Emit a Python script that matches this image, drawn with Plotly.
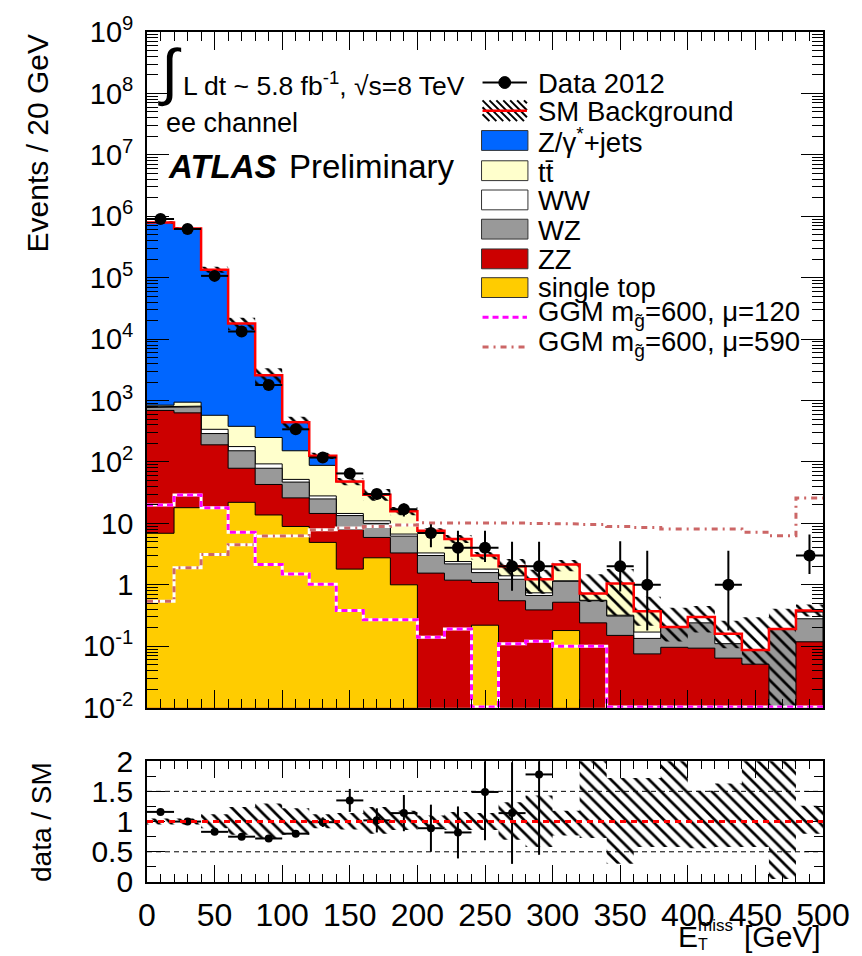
import numpy as np
import plotly.graph_objects as go

# ---------------- data ----------------
bin_edges = [0, 20, 40, 60, 80, 100, 120, 140, 160, 180, 200, 220, 240, 260, 280,
             300, 320, 340, 360, 380, 400, 420, 440, 460, 480, 500]
bin_centers = [10, 30, 50, 70, 90, 110, 130, 150, 170, 190, 210, 230, 250, 270, 290,
               310, 330, 350, 370, 390, 410, 430, 450, 470, 490]

# background components, stacked bottom -> top
single_top = [6.9, 18, 18, 22, 13.7, 8.9, 4.9, 1.8, 2.75, 1.0, 0, 0, 0.22, 0, 0,
              0.18, 0, 0, 0, 0, 0, 0, 0, 0, 0]
zz = [683, 612, 172, 57, 29.3, 17.1, 9.6, 6.2, 3.15, 2.3, 1.55, 1.19, 0.87, 0.55, 0.39,
      0.34, 0.24, 0.15, 0.075, 0.096, 0.093, 0.064, 0.051, 0, 0.118]
wz = [80, 160, 100, 73, 36, 21, 10.5, 5.4, 4.1, 2.9, 1.45, 1.0, 0.49, 0.68, 0.28,
      0.62, 0.31, 0.16, 0.059, 0.11, 0.147, 0.046, 0.036, 0.19, 0.162]
ww = [20, 20, 50, 26, 14, 5, 3, 1.1, 1.0, 0.5, 0.3, 0.2, 0.22, 0.17, 0.07,
      0.02, 0.01, 0.01, 0.036, 0, 0.06, 0.05, 0, 0, 0.08]
ttbar = [50, 130, 235, 202, 157, 100, 60, 33, 18, 8.9, 4.1, 3.2, 1.2, 0.6, 0.49,
         0.99, 0.16, 0.73, 0.2, 0, 0, 0, 0, 0, 0.01]
zjets = [7.89e5, 6.29e5, 1.344e5, 1.762e4, 2320, 293, 38, 0.5, 0.3, 0.1, 0.2, 0, 0, 0, 0,
         0, 0, 0, 0, 0, 0, 0, 0, 0, 0.01]

# SM uncertainty band (relative, as in the ratio panel)
band_hi = [1.05, 1.05, 1.12, 1.24, 1.30, 1.22, 1.12, 1.14, 1.24, 1.18, 1.10, 1.16, 1.14,
           1.32, 1.43, 1.18, 2.07, 1.72, 1.72, 2.05, 1.51, 1.63, 3.4, 2.15, 1.26]
band_lo = [0.95, 0.95, 0.89, 0.78, 0.72, 0.78, 0.89, 0.87, 0.80, 0.86, 0.90, 0.86, 0.86,
           0.70, 0.58, 0.77, 0.73, 0.30, 0.58, 0.58, 0.56, 0.58, 0.58, 0.05, 0.80]

# data
data = [9.0e5, 6.2e5, 1.07e5, 1.33e4, 1790, 340, 118, 65, 30, 17, 7, 4, 4, 2, 2,
        None, None, 2, 1, None, None, 1, None, None, 3]
data_err_up = [950, 790, 330, 115, 42, 18, 11, 8, 5.5, 4.1, 2.7, 3.6, 3.6, 3.0, 3.0,
               None, None, 3.1, 2.6, None, None, 2.6, None, None, 3.6]
data_err_dn = [950, 790, 330, 115, 42, 18, 11, 8, 5.5, 4.1, 2.9, 1.65, 1.65, 1.2, 1.2,
               None, None, 1.22, 0.82, None, None, 0.82, None, None, 1.5]

# signal models
ggm_120 = [20, 29, 18, 7.2, 2.15, 1.5, 1.02, 0.38, 0.27, 0.27, 0.14, 0.19, 0, 0.11, 0.12,
           0.10, 0.10, 0, 0, 0, 0, 0, 0, 0, 0]
ggm_590 = [0.54, 1.9, 3.1, 4.5, 6.2, 6.3, 7.9, 8.4, 8.9, 9.4, 10.2, 10.3, 10.3, 10.1, 10.0,
           9.8, 9.6, 8.9, 8.6, 8.1, 8.1, 8.1, 7.2, 6.3, 26]

# ratio panel
ratio = [1.16, 1.0, 0.83, 0.75, 0.72, 0.80, 0.99, 1.35, 1.02, 1.14, 0.89, 0.82, 1.49, 1.14, 1.78,
         None, None, None, None, None, None, None, None, None, None]
ratio_err = [0.02, 0.01, 0.01, 0.01, 0.02, 0.03, 0.08, 0.19, 0.20, 0.30, 0.39, 0.43, 0.80, 0.84, 1.33,
             None, None, None, None, None, None, None, None, None, None]

y_tick_exponents = [-2, -1, 0, 1, 2, 3, 4, 5, 6, 7, 8, 9]
x_ticks = [0, 50, 100, 150, 200, 250, 300, 350, 400, 450, 500]
ratio_ticks = [0, 0.5, 1, 1.5, 2]

# ---------------- geometry ----------------
W, H = 862, 956
L, R, T, B = 147, 30, 24, 74
PW, PH = W - L - R, H - T - B


def px(x):
    return (x - L) / PW


def py(y):
    return (H - B - y) / PH


FONT = "Liberation Sans"
FLOOR = 1e-4
HATCH = dict(shape="\\", fgcolor="#000000", bgcolor="rgba(255,255,255,0)", fgopacity=1,
             fillmode="replace", size=9, solidity=0.3)


def step_xy(vals, floor=FLOOR):
    xs, ys = [], []
    for i, v in enumerate(vals):
        v = v if (v is not None and v > 0) else floor
        xs += [bin_edges[i], bin_edges[i + 1]]
        ys += [v, v]
    return xs, ys


comps = np.array([single_top, zz, wz, ww, ttbar, zjets], dtype=float)
cum = np.cumsum(comps, axis=0)
total = cum[-1]

fig = go.Figure()

# stacked fills, drawn from the top cumulative downwards
fill_specs = [(5, "#0066FF"), (4, "#FFFFCC"), (3, "#FFFFFF"), (2, "#999999"),
              (1, "#CC0000"), (0, "#FFCC00")]
for idx, col in fill_specs:
    xs, ys = step_xy(cum[idx])
    fig.add_trace(go.Scatter(
        x=xs + [bin_edges[-1], bin_edges[0]], y=ys + [FLOOR, FLOOR],
        fill="toself", fillcolor=col, mode="lines",
        line=dict(color="black", width=1), hoverinfo="skip", showlegend=False,
        xaxis="x", yaxis="y"))

# SM uncertainty hatch (main)
xh, yh = step_xy(total * np.array(band_hi))
xl, yl = step_xy(total * np.array(band_lo))
fig.add_trace(go.Scatter(
    x=xh + xl[::-1], y=yh + yl[::-1], fill="toself", fillcolor="rgba(0,0,0,0)",
    fillpattern=HATCH, mode="lines", line=dict(width=0, color="rgba(0,0,0,0)"),
    hoverinfo="skip", showlegend=False, xaxis="x", yaxis="y"))

# SM total line
xs, ys = step_xy(total)
fig.add_trace(go.Scatter(x=xs, y=ys, mode="lines", line=dict(color="#FF0000", width=2.5),
                         showlegend=False, hoverinfo="skip", xaxis="x", yaxis="y"))

# GGM signals
for vals, col, dash in [(ggm_590, "#CC6666", "6px,5px,2px,5px"), (ggm_120, "#FF00FF", "6px,4px")]:
    xs, ys = step_xy(vals, floor=0.0102)
    fig.add_trace(go.Scatter(x=xs, y=ys, mode="lines", line=dict(color="white", width=3),
                             showlegend=False, hoverinfo="skip", xaxis="x", yaxis="y"))
    fig.add_trace(go.Scatter(x=xs, y=ys, mode="lines", line=dict(color=col, width=3, dash=dash),
                             showlegend=False, hoverinfo="skip", xaxis="x", yaxis="y"))

# data
sel = [i for i, d in enumerate(data) if d is not None]
fig.add_trace(go.Scatter(
    x=[bin_centers[i] for i in sel], y=[data[i] for i in sel], mode="markers",
    marker=dict(color="black", size=12),
    error_y=dict(type="data", symmetric=False, array=[data_err_up[i] for i in sel],
                 arrayminus=[data_err_dn[i] for i in sel], thickness=2, width=0, color="black"),
    error_x=dict(type="constant", value=10, thickness=2, width=0, color="black"),
    showlegend=False, hoverinfo="skip", xaxis="x", yaxis="y"))

# ratio band
xh, yh = step_xy(band_hi)
xl, yl = step_xy(band_lo)
fig.add_trace(go.Scatter(
    x=xh + xl[::-1], y=yh + yl[::-1], fill="toself", fillcolor="rgba(0,0,0,0)",
    fillpattern=HATCH, mode="lines", line=dict(width=0, color="rgba(0,0,0,0)"),
    hoverinfo="skip", showlegend=False, xaxis="x2", yaxis="y2"))

# ratio points
sel = [i for i, r in enumerate(ratio) if r is not None]
fig.add_trace(go.Scatter(
    x=[bin_centers[i] for i in sel], y=[ratio[i] for i in sel], mode="markers",
    marker=dict(color="black", size=8),
    error_y=dict(type="data", array=[ratio_err[i] for i in sel], thickness=2, width=0, color="black"),
    error_x=dict(type="constant", value=10, thickness=2, width=0, color="black"),
    showlegend=False, hoverinfo="skip", xaxis="x2", yaxis="y2", cliponaxis=True))

shapes = []
# ratio reference lines
for yv in (0.5, 1.5):
    shapes.append(dict(type="line", xref="x2", yref="y2", x0=0, x1=500, y0=yv, y1=yv,
                       line=dict(color="black", width=1, dash="5px,4px"), layer="below"))
shapes.append(dict(type="line", xref="x2", yref="y2", x0=0, x1=500, y0=1, y1=1,
                   line=dict(color="#FF0000", width=3, dash="6px,5px"), layer="above"))

# ---------------- manual legend ----------------
lx0, lx1 = 487, 532
shapes.append(dict(type="line", xref="paper", yref="paper", x0=px(lx0), x1=px(lx1),
                   y0=py(75), y1=py(75), line=dict(color="black", width=2)))
shapes.append(dict(type="circle", xref="paper", yref="paper", x0=px(503.5), x1=px(515.5),
                   y0=py(81), y1=py(69), fillcolor="black", line=dict(color="black", width=1)))
bx0, bx1, by0, by1 = lx0, lx1, 93, 114
hh = by1 - by0
for s in range(bx0 - hh, bx1, 7):
    xs0, ys0, xe, ye = s, by0, s + hh, by1
    if xs0 < bx0:
        ys0 += bx0 - xs0
        xs0 = bx0
    if xe > bx1:
        ye -= xe - bx1
        xe = bx1
    if xe > xs0:
        shapes.append(dict(type="line", xref="paper", yref="paper", x0=px(xs0), y0=py(ys0),
                           x1=px(xe), y1=py(ye), line=dict(color="black", width=2)))
shapes.append(dict(type="line", xref="paper", yref="paper", x0=px(lx0), x1=px(lx1),
                   y0=py(103.5), y1=py(103.5), line=dict(color="#FF0000", width=2.5)))
box_entries = [(133.5, "#0066FF"), (164, "#FFFFCC"), (193.5, "#FFFFFF"), (223, "#999999"),
               (253, "#CC0000"), (282, "#FFCC00")]
for yc, col in box_entries:
    shapes.append(dict(type="rect", xref="paper", yref="paper", x0=px(486), x1=px(533),
                       y0=py(yc + 10), y1=py(yc - 10), fillcolor=col,
                       line=dict(color="#333333", width=1)))
shapes.append(dict(type="line", xref="paper", yref="paper", x0=px(lx0), x1=px(lx1),
                   y0=py(312), y1=py(312), line=dict(color="#FF00FF", width=3, dash="6px,4px")))
shapes.append(dict(type="line", xref="paper", yref="paper", x0=px(lx0), x1=px(lx1),
                   y0=py(342), y1=py(342), line=dict(color="#CC6666", width=3, dash="6px,5px,2px,5px")))

annotations = []


def txt(text, x, y, size, xanchor="left", yanchor="middle", angle=0):
    annotations.append(dict(text=text, x=px(x), y=py(y), xref="paper", yref="paper",
                            showarrow=False, xanchor=xanchor, yanchor=yanchor, textangle=angle,
                            font=dict(family=FONT, size=size, color="black")))


legend_labels = [("Data 2012", 76), ("SM Background", 104), ("Z/γ<sup>*</sup>+jets", 134),
                 ("tt̄", 166), ("WW", 194), ("WZ", 224), ("ZZ", 254), ("single top", 282),
                 ("GGM m<sub>g̃</sub>=600, μ=120", 308), ("GGM m<sub>g̃</sub>=600, μ=590", 338)]
for lab, yc in legend_labels:
    txt(lab, 541, yc, 27.5)

# ATLAS labels
txt("∫", 170, 64, 62, xanchor="center")
txt("L dt ~ 5.8 fb<sup>-1</sup>, √s=8 TeV", 181, 76, 26.5)
txt("ee channel", 164, 116, 27)
txt("<b><i>ATLAS</i></b>", 166, 160, 33)
txt("Preliminary", 289, 160, 33)

# axis titles
txt("Events / 20 GeV", 36, 136, 30, xanchor="center", angle=-90)
txt("data / SM", 40, 821, 28, xanchor="center", angle=-90)
txt("E", 683, 937, 30)
txt("miss", 703, 926, 17)
txt("T", 703, 945, 16)
txt("[GeV]", 832, 937, 30, xanchor="right")

axis_common = dict(showline=True, linecolor="black", linewidth=1.8, mirror="allticks",
                   ticks="inside", tickcolor="black", showgrid=False, zeroline=False)

fig.update_layout(
    width=W, height=H, margin=dict(l=L, r=R, t=T, b=B),
    paper_bgcolor="white", plot_bgcolor="white", showlegend=False,
    font=dict(family=FONT, color="black"),
    xaxis=dict(domain=[0, 1], anchor="y", range=[0, 500], tickmode="array", tickvals=x_ticks,
               showticklabels=False, ticklen=18, tickwidth=1,
               minor=dict(ticks="inside", ticklen=9, dtick=10, tick0=0, tickcolor="black"),
               **axis_common),
    yaxis=dict(domain=[py(706), 1], anchor="x", type="log", range=[-2, 9], tickmode="array",
               tickvals=[10.0 ** k for k in y_tick_exponents],
               ticktext=["1" if k == 0 else ("10" if k == 1 else "10<sup>%d</sup>" % k)
                         for k in y_tick_exponents],
               ticklen=22, tickwidth=1, tickfont=dict(size=29), ticklabelstandoff=6,
               minor=dict(ticks="inside", ticklen=11, tickmode="array", tickcolor="black",
                          tickvals=[m * 10.0 ** k for k in y_tick_exponents[:-1] for m in range(2, 10)]),
               **axis_common),
    xaxis2=dict(domain=[0, 1], anchor="y2", range=[0, 500], tickmode="array", tickvals=x_ticks,
                ticktext=[str(v) for v in x_ticks], tickfont=dict(size=32), ticklen=17, tickwidth=1,
                ticklabelstandoff=4,
                minor=dict(ticks="inside", ticklen=8, dtick=10, tick0=0, tickcolor="black"),
                **axis_common),
    yaxis2=dict(domain=[0, py(760)], anchor="x2", range=[0, 2], tickmode="array",
                tickvals=ratio_ticks, ticktext=["0", "0.5", "1", "1.5", "2"],
                tickfont=dict(size=30), ticklen=18, tickwidth=1, ticklabelstandoff=6,
                minor=dict(ticks="inside", ticklen=9, tickmode="array", tickcolor="black",
                           tickvals=[0.25, 0.75, 1.25, 1.75]),
                **axis_common),
    shapes=shapes, annotations=annotations,
)

fig.write_html("out.html")
